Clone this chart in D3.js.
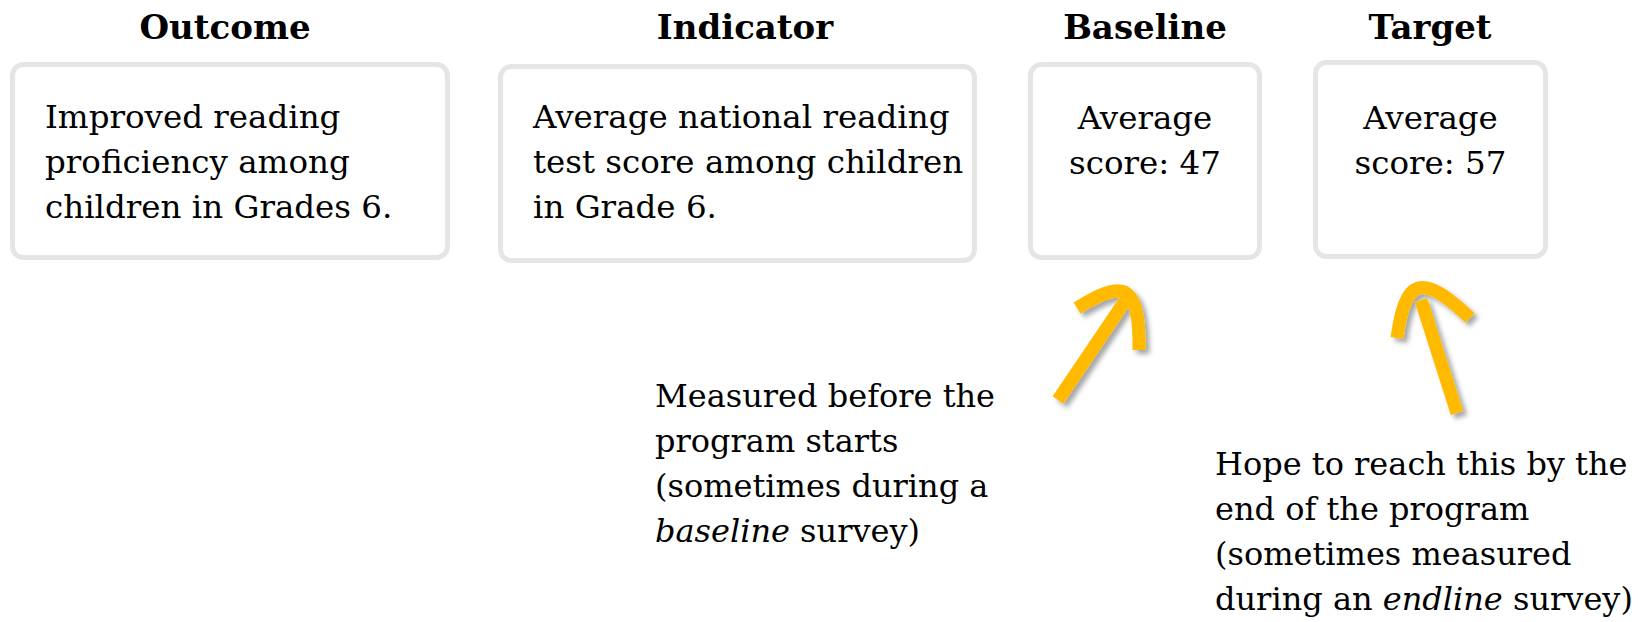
<!DOCTYPE html>
<html>
<head>
<meta charset="utf-8">
<script src="https://cdn.jsdelivr.net/npm/d3@7"></script>
<style>
  body { margin: 0; background: #fff; }
  svg { display: block; }
</style>
</head>
<body>
<svg></svg>
<script>
// column headers and box contents
var headers  = ['Outcome', 'Indicator', 'Baseline', 'Target'];
var boxLines = [
	['Improved reading', 'proficiency among', 'children in Grades 6.'],
	['Average national reading', 'test score among children', 'in Grade 6.'],
	['Average', 'score: 47'],
	['Average', 'score: 57']
];
var boxAlign = ['start', 'start', 'middle', 'middle'];

// annotation notes under the arrows (italic word marked with *)
var baselineNote = ['Measured before the', 'program starts', '(sometimes during a', '*baseline* survey)'];
var targetNote   = ['Hope to reach this by the', 'end of the program', '(sometimes measured', 'during an *endline* survey)'];

var W = 1638, H = 622;
var svg = d3.select('svg').attr('width', W).attr('height', H);

var defs = svg.append('defs');
var f = defs.append('filter').attr('id', 'shadow')
	.attr('x', '-30%').attr('y', '-30%').attr('width', '160%').attr('height', '160%');
f.append('feDropShadow').attr('dx', 4).attr('dy', 4).attr('stdDeviation', 2.5)
	.attr('flood-color', '#000').attr('flood-opacity', 0.35);

// box geometry for each column, header centre a little off the box centre
var boxes = [
	{x0: 10,   x1: 450,  y0: 62, y1: 260, hx: 225},
	{x0: 498,  x1: 977,  y0: 64, y1: 263, hx: 745},
	{x0: 1028, x1: 1262, y0: 62, y1: 260, hx: 1145},
	{x0: 1313, x1: 1548, y0: 60, y1: 259, hx: 1430}
];

var serif = '"DejaVu Serif", Georgia, serif';

svg.selectAll('.header').data(headers).enter().append('text')
	.attr('class', 'header')
	.attr('x', function(d, i){ return boxes[i].hx; })
	.attr('y', 39)
	.attr('text-anchor', 'middle')
	.attr('font-family', serif)
	.attr('font-weight', 'bold')
	.attr('font-size', 34)
	.text(function(d){ return d; });

svg.selectAll('.box').data(boxes).enter().append('rect')
	.attr('class', 'box')
	.attr('x', function(d){ return d.x0 + 2.5; })
	.attr('y', function(d){ return d.y0 + 2.5; })
	.attr('width', function(d){ return d.x1 - d.x0 - 5; })
	.attr('height', function(d){ return d.y1 - d.y0 - 5; })
	.attr('rx', 11)
	.attr('fill', '#fff')
	.attr('stroke', '#e5e5e5')
	.attr('stroke-width', 5);

boxLines.forEach(function(lines, i){
	var b = boxes[i];
	var centered = boxAlign[i] == 'middle';
	svg.append('g').selectAll('text').data(lines).enter().append('text')
		.attr('x', centered ? (b.x0 + b.x1) / 2 : b.x0 + 35)
		.attr('y', function(d, j){ return (centered ? 129 : 128) + j * 45; })
		.attr('text-anchor', boxAlign[i])
		.attr('font-family', serif)
		.attr('font-size', 32.5)
		.text(function(d){ return d; });
});

// notes with italic spans
function note(lines, x, y){
	var t = svg.append('g');
	lines.forEach(function(line, j){
		var txt = t.append('text')
			.attr('x', x).attr('y', y + j * 45)
			.attr('font-family', serif)
			.attr('font-size', 32);
		line.split('*').forEach(function(part, k){
			if(part == '') return;
			txt.append('tspan')
				.attr('font-style', k % 2 == 1 ? 'italic' : 'normal')
				.text(part);
		});
	});
}
note(baselineNote, 655, 407);
note(targetNote, 1215, 475);

// hand-drawn style arrows
var arrows = [
	['M1058,400 L1125,301', 'M1077,308 C1120,282 1140,278 1139,350'],
	['M1457,413 L1421,300', 'M1397,338 C1405,280 1420,270 1470,318']
];
arrows.forEach(function(a){
	var g = svg.append('g').attr('filter', 'url(#shadow)');
	a.forEach(function(p){
		g.append('path').attr('d', p)
			.attr('fill', 'none')
			.attr('stroke', '#ffba00')
			.attr('stroke-width', 13);
	});
});
</script>
</body>
</html>
